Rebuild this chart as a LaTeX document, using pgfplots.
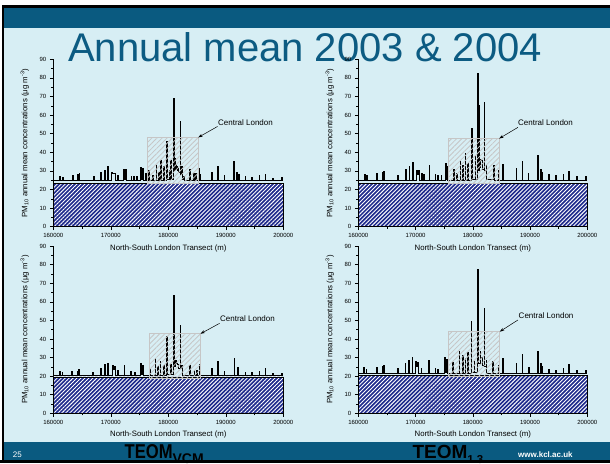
\documentclass[border=0pt]{standalone}
\usepackage{fontspec}
\setmainfont{Liberation Sans}
\usepackage{graphicx}
\usepackage{pgfplots}
\pgfplotsset{compat=1.18}
\usetikzlibrary{patterns.meta,arrows.meta}

\definecolor{barblue}{HTML}{0A5A80}
\definecolor{slidebg}{HTML}{D7EEF4}
\definecolor{titleblue}{HTML}{0C5B82}
\definecolor{bgnavy}{HTML}{1E2A8C}

\tikzset{
  callout/.style={-{Stealth[length=4.5pt,width=3pt]}, black, line width=0.5pt},
  calloutlabel/.style={font=\fontsize{8}{9}\selectfont},
}

\pgfplotsset{
  transect/.style={
    scale only axis, width=230pt, height=167.4pt, anchor=south west,
    xmin=160000, xmax=200000, ymin=0, ymax=90,
    axis x line*=bottom, axis y line*=left,
    xtick={160000,170000,180000,190000,200000},
    xticklabels={160000,170000,180000,190000,200000},
    ytick={0,10,20,30,40,50,60,70,80,90},
    yticklabels={0,10,20,30,40,50,60,70,80,90},
    minor x tick num=1, minor y tick num=1,
    tick align=outside, major tick length=3.5pt, minor tick length=2pt,
    every tick/.style={black, line width=0.5pt},
    axis line style={black, line width=0.7pt},
    scaled x ticks=false,
    tick label style={font=\fontsize{6}{7}\selectfont},
    xlabel={North-South London Transect (m)},
    ylabel={PM\textsubscript{10} annual mean concentrations (μg m\textsuperscript{-3})},
    label style={font=\fontsize{7.8}{9}\selectfont},
    x label style={at={(axis description cs:0.5,0)}, anchor=center, yshift=-21.5pt},
    y label style={at={(axis description cs:0,0.5)}, anchor=center, yshift=28.5pt},
    clip=false,
  },
  background/.style={draw=black, line width=0.5pt, preaction={fill=bgnavy},
    pattern={Lines[angle=45,distance=2.8pt,line width=0.9pt]}, pattern color=white},
  profile/.style={black, line width=0.8pt, const plot},
  centralbox/.style={draw=gray!45, line width=0.9pt,
    pattern={Lines[angle=45,distance=3.6pt,line width=0.8pt]}, pattern color=gray!45},
}

\begin{document}
\begin{tikzpicture}
\path[use as bounding box] (0,0) rectangle (610pt,463pt);
\clip (0,0) rectangle (610pt,463pt);
% slide frame
\fill[white] (0,0) rectangle (610pt,463pt);
\fill[black] (1.5pt,0) rectangle (610pt,458pt);
\fill[barblue] (4pt,435pt) rectangle (610pt,455pt);
\fill[slidebg] (4pt,21pt) rectangle (610pt,435pt);
\fill[barblue] (4pt,3pt) rectangle (610pt,21pt);
\node[anchor=base west, inner sep=0, text=titleblue, font=\fontsize{40}{44}\selectfont]
  at (68pt,401pt) {Annual mean 2003 \& 2004};

% ---- 2003, TEOM VCM ----
\begin{axis}[transect, at={(53.3pt,236.3pt)}]
\addplot[background] coordinates {(160000,0) (160000,23.4) (200000,23.4) (200000,0) (160000,0)};
\addplot[profile] coordinates {
(160000,24.8) (161040,27.2)(161170,24.8) (161620,26.4)(161750,24.8)
(163300,27.6)(163430,24.8) (164230,28.3)(164360,24.8) (164460,28.9)(164590,24.8)
(166960,26.9)(167090,24.8) (168230,29.2)(168360,24.8) (168870,30.3)(169000,24.8)
(169450,32.4)(169580,24.8) (170140,29.0)(170300,28.6)(170500,28.9)(170720,28.3)(170850,24.8)
(171130,27.8)(171260,24.8) (172170,31.0)(172300,25.5)(172520,31.0)(172650,24.8)
(173510,27.1)(173640,24.8) (173910,26.9)(174040,24.8) (174490,27.2)(174620,24.8)
(175190,31.9)(175320,25.6)(175540,31.2)(175670,24.8) (176000,28.7)(176130,24.8)
(176580,30.5)(176710,24.8) (177300,27.5)(177430,24.8) (177860,33.2)(177990,24.8)
(178300,29.0)(178430,24.8) (178670,35.9)(178800,24.8) (179130,32.3)(179260,24.8)
(179710,46.1)(179840,25.5) (180150,30.0)(180280,25.5) (180400,35.9)(180530,25.5)
(180870,68.8)(181000,30.0) (181100,36.8)(181230,31.0) (181350,33.5)(181450,32.3)(181580,30.0)
(181700,31.5)(181830,29.0) (182030,56.8)(182160,28.0) (182320,32.3)(182450,25.5)
(182700,27.0)(182830,24.8) (183650,30.8)(183780,24.8) (184350,28.7)(184480,24.8)
(184700,28.9)(184830,24.8) (185270,31.6)(185400,24.8) (185510,28.3)(185640,24.8)
(187540,29.4)(187670,24.8) (188580,32.6)(188710,24.8) (189680,27.6)(189810,24.8)
(191300,35.0)(191430,24.8) (191880,29.4)(192010,24.8) (192170,28.1)(192300,24.8)
(193330,27.2)(193460,24.8) (194490,26.5)(194620,24.8) (195770,27.6)(195900,24.8)
(196810,28.3)(196940,24.8) (198140,26.0)(198270,24.8) (199710,26.7)(199840,24.8)
(200000,24.8)};
\addplot[centralbox] coordinates {(176300,23.5) (176300,48) (185200,48) (185200,23.5) (176300,23.5)};
\draw[callout] (axis cs:188570,53.9) -- (axis cs:185200,48);
\node[calloutlabel] at (axis cs:193420,56.2) {Central London};
\end{axis}

% ---- 2004, TEOM VCM ----
\begin{axis}[transect, width=229pt, at={(358.3pt,236.3pt)}]
\addplot[background] coordinates {(160000,0) (160000,23.3) (200000,23.3) (200000,0) (160000,0)};
\addplot[profile] coordinates {
(160000,24.8) (161050,28.3)(161180,24.8) (161460,27.4)(161590,24.8)
(163200,28.7)(163330,24.8) (164250,29.0)(164380,24.8) (164450,29.8)(164580,24.8)
(166870,27.8)(167000,24.8) (168210,31.0)(168340,24.8) (168850,32.6)(168980,24.8)
(169430,34.8)(169560,24.8) (170190,30.5)(170320,28.0)(170540,30.5)(170670,24.8)
(171060,28.7)(171190,24.8) (171450,28.3)(171580,24.8) (172340,33.0)(172470,24.8)
(173390,28.1)(173520,24.8) (173860,27.8)(173990,24.8) (174450,27.8)(174580,24.8)
(175200,34.1)(175330,25.5)(175490,32.6)(175620,24.8) (176590,31.0)(176720,24.8)
(177200,28.5)(177330,24.8) (177760,35.3)(177890,24.8) (178160,33.2)(178290,24.8)
(178630,39.4)(178760,24.8) (179100,34.1)(179230,24.8) (179740,52.7)(179870,25.5)
(180380,37.6)(180510,25.5) (180840,82.5)(180970,30.0) (181080,65.4)(181210,32.0)
(181400,36.0)(181540,35.9)(181670,31.0) (181950,66.7)(182080,30.0)
(182300,33.2)(182430,25.5) (183580,32.8)(183710,24.8) (184450,30.1)(184580,24.8)
(185210,33.7)(185340,24.8) (187540,31.2)(187670,24.8) (188590,35.3)(188720,24.8)
(189630,28.7)(189760,24.8) (191320,38.2)(191450,24.8) (191850,30.8)(191980,24.8)
(192080,29.4)(192210,24.8) (193190,28.0)(193320,24.8) (194470,27.4)(194600,24.8)
(195750,28.3)(195880,24.8) (196740,29.8)(196870,24.8) (198130,26.9)(198260,24.8)
(199700,27.2)(199830,24.8) (200000,24.8)};
\addplot[centralbox] coordinates {(175700,23.2) (175700,47.4) (184600,47.4) (184600,23.2) (175700,23.2)};
\draw[callout] (axis cs:187880,53.4) -- (axis cs:184600,47.4);
\node[calloutlabel] at (axis cs:192700,55.7) {Central London};
\end{axis}

% ---- 2003, TEOM 1.3 ----
\begin{axis}[transect, height=167.3pt, at={(53.3pt,49.7pt)}]
\addplot[background] coordinates {(160000,0) (160000,19.6) (200000,19.6) (200000,0) (160000,0)};
\addplot[profile] coordinates {
(160000,20.3) (161040,22.8)(161170,20.3) (161500,22.0)(161630,20.3)
(163190,22.8)(163320,20.3) (164180,22.8)(164310,20.3) (164410,23.7)(164540,20.3)
(166840,21.9)(166970,20.3) (168230,24.4)(168360,20.3) (168870,26.2)(169000,20.3)
(169450,26.9)(169580,20.3) (170260,25.5)(170390,23.5)(170600,25.0)(170730,20.3)
(171130,23.3)(171260,20.3) (172290,25.5)(172420,20.3) (173450,22.5)(173580,20.3)
(174150,22.2)(174280,20.3) (175190,26.9)(175320,21.0)(175540,25.9)(175670,20.3)
(176700,23.7)(176830,20.3) (177680,29.6)(177810,20.3) (178100,25.0)(178230,20.3)
(178550,28.1)(178680,20.3) (179130,25.9)(179260,20.3) (179710,41.6)(179840,21.0)
(180400,26.5)(180530,21.0) (180870,63.3)(181000,25.0) (181270,28.7)(181400,27.0)
(181600,26.5)(181730,24.0) (182030,47.3)(182160,24.0) (182320,26.0)(182450,20.3)
(183650,25.5)(183780,20.3) (184460,23.3)(184590,20.3) (184900,23.3)(185030,20.3)
(185330,26.4)(185460,20.3) (187540,24.4)(187670,20.3) (188580,28.1)(188710,20.3)
(189680,22.4)(189810,20.3) (191420,29.4)(191550,20.3) (192000,24.6)(192130,20.3)
(193330,22.2)(193460,20.3) (194490,21.9)(194620,20.3) (195770,22.4)(195900,20.3)
(196810,24.0)(196940,20.3) (198140,21.2)(198270,20.3) (199710,21.5)(199840,20.3)
(200000,20.3)};
\addplot[centralbox] coordinates {(176700,18.8) (176700,42.8) (185600,42.8) (185600,18.8) (176700,18.8)};
\draw[callout] (axis cs:188920,48.4) -- (axis cs:185600,42.8);
\node[calloutlabel] at (axis cs:193770,51.1) {Central London};
\end{axis}

% ---- 2004, TEOM 1.3 ----
\begin{axis}[transect, width=229pt, height=167.3pt, at={(358.3pt,49.7pt)}]
\addplot[background] coordinates {(160000,0) (160000,20.3) (200000,20.3) (200000,0) (160000,0)};
\addplot[profile] coordinates {
(160000,21.2) (160870,24.9)(161000,21.2) (161330,23.8)(161460,21.2)
(163200,24.7)(163330,21.2) (164200,25.0)(164330,21.2) (164370,26.0)(164500,21.2)
(166810,24.0)(166940,21.2) (168150,26.9)(168280,21.2) (168790,28.5)(168920,21.2)
(169370,30.1)(169500,21.2) (170010,28.1)(170140,25.0)(170350,27.4)(170480,21.2)
(170950,24.2)(171080,21.2) (172280,28.3)(172410,21.2) (173390,24.0)(173520,21.2)
(173860,23.8)(173990,21.2) (175020,30.1)(175150,22.0)(175430,29.0)(175560,21.2)
(176480,27.2)(176610,21.2) (177580,33.3)(177710,21.2) (178160,31.0)(178290,21.2)
(178630,29.6)(178760,21.2) (179100,32.6)(179230,21.2) (179680,49.3)(179810,22.0)
(180200,27.8)(180330,22.0) (180840,77.4)(180970,27.0) (181250,33.2)(181380,30.0)
(181600,29.5)(181730,26.0) (181950,56.5)(182080,25.0) (182300,28.7)(182430,21.2)
(183460,28.1)(183590,21.2) (184450,26.0)(184580,21.2) (185150,29.4)(185280,21.2)
(187540,26.9)(187670,21.2) (188590,31.6)(188720,21.2) (189690,24.6)(189820,21.2)
(191320,33.2)(191450,21.2) (191850,26.9)(191980,21.2) (192080,25.1)(192210,21.2)
(193240,23.8)(193370,21.2) (194410,23.3)(194540,21.2) (195750,24.4)(195880,21.2)
(196740,26.4)(196870,21.2) (198130,22.9)(198260,21.2) (199700,23.3)(199830,21.2)
(200000,21.2)};
\addplot[centralbox] coordinates {(175700,19.7) (175700,43.9) (184700,43.9) (184700,19.7) (175700,19.7)};
\draw[callout] (axis cs:187880,50.2) -- (axis cs:184700,43.9);
\node[calloutlabel] at (axis cs:192800,52.7) {Central London};
\end{axis}

% footer
\node[anchor=base west, inner sep=0, text=white, font=\fontsize{8}{9}\selectfont] at (12.7pt,6pt) {25};
\node[anchor=base west, inner sep=0, font=\bfseries\fontsize{20}{22}\selectfont] at (124.5pt,4.5pt)
  {\scalebox{0.83}[1]{TEOM}\raisebox{-4.5pt}{\fontsize{14}{15}\selectfont VCM}};
\node[anchor=base west, inner sep=0, font=\bfseries\fontsize{19}{21}\selectfont] at (412.3pt,4.5pt)
  {TEOM\raisebox{-4.5pt}{\fontsize{11.5}{13}\selectfont 1.3}};
\node[anchor=base west, inner sep=0, text=white, font=\bfseries\fontsize{8}{9}\selectfont] at (518pt,6pt)
  {www.kcl.ac.uk};
\fill[black] (0,0) rectangle (610pt,3pt);
\end{tikzpicture}
\end{document}
